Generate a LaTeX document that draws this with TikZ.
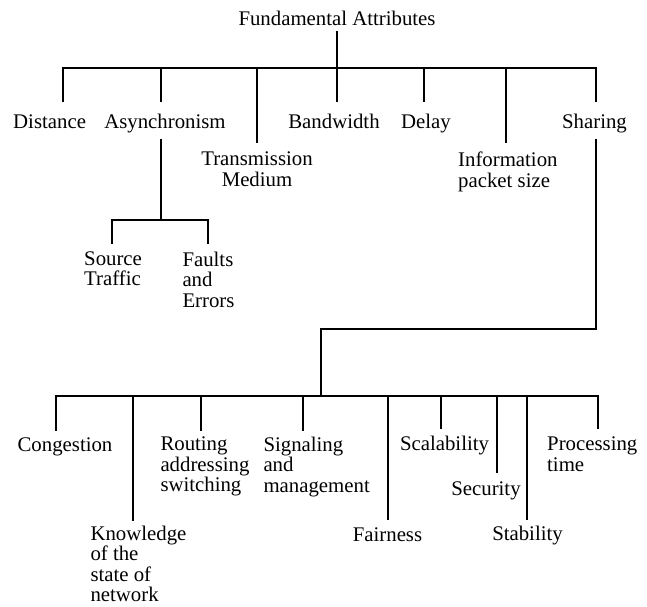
\documentclass[tikz,border=0pt]{standalone}
\usepackage{fontspec}
\setmainfont{Liberation Serif}
\begin{document}
\begin{tikzpicture}[x=1pt,y=-1pt,
  lbl/.style={font=\fontsize{20.8}{20.5}\selectfont, inner sep=0pt, outer sep=0pt},
  ml/.style={lbl, align=left, anchor=north west},
  ln/.style={line width=1.9pt, line cap=rect}]
\useasboundingbox (0,0) rectangle (647,606);
% ---- top level ----
\node[lbl,anchor=base] (root) at (337,25) {Fundamental Attributes};
\node[lbl,anchor=base] (dist) at (49.6,128) {Distance};
\node[lbl,anchor=base] (async) at (165,128) {Asynchronism};
\node[lbl,align=center,anchor=north] (trans) at (257,152) {Transmission\\Medium};
\node[lbl,anchor=base] (band) at (334,128) {Bandwidth};
\node[lbl,anchor=base] (delay) at (426,128) {Delay};
\node[ml] (info) at (458.2,152) {Information\\packet size};
\node[lbl,anchor=base] (share) at (594.5,128) {Sharing};
% ---- asynchronism children ----
\node[ml] (src) at (84.2,251.7) {Source\\Traffic};
\node[ml] (faults) at (182.5,251.7) {Faults\\and\\Errors};
% ---- sharing children ----
\node[lbl,anchor=base] (cong) at (65,451) {Congestion};
\node[ml] (know) at (90.5,526) {Knowledge\\of the\\state of\\network};
\node[ml] (rout) at (160.5,437) {Routing\\addressing\\switching};
\node[ml] (sig) at (263.5,437) {Signaling\\and\\management};
\node[lbl,anchor=base] (fair) at (387.5,541) {Fairness};
\node[lbl,anchor=base] (scal) at (444.5,450) {Scalability};
\node[lbl,anchor=base] (sec) at (486,495) {Security};
\node[lbl,anchor=base] (stab) at (527.5,540) {Stability};
\node[ml] (proc) at (547.2,437) {Processing\\time};
% ---- junction coordinates ----
\coordinate (rootj) at (337,68);
\coordinate (asyncj) at (161,220);
\coordinate (sharej) at (321,329);
\coordinate (botj) at (321,396);
% ---- connectors: top ----
\draw[ln] (337,32) -- (rootj);
\draw[ln] (63,68) -- (596,68);
\draw[ln] (63,68) -- (63,101);
\draw[ln] (161,68) -- (161,101);
\draw[ln] (257,68) -- (257,142);
\draw[ln] (337,68) -- (337,101);
\draw[ln] (424,68) -- (424,101);
\draw[ln] (506,68) -- (506,142);
\draw[ln] (596,68) -- (596,101);
% ---- asynchronism ----
\draw[ln] (161,140) -- (asyncj);
\draw[ln] (112,220) -- (208,220);
\draw[ln] (112,220) -- (112,243);
\draw[ln] (208,220) -- (208,243);
% ---- sharing ----
\draw[ln] (596,140) -- (596,329) -- (sharej) -- (botj);
\draw[ln] (56,396) -- (598,396);
\draw[ln] (56,396) -- (56,430);
\draw[ln] (133,396) -- (133,520);
\draw[ln] (201,396) -- (201,430);
\draw[ln] (303,396) -- (303,430);
\draw[ln] (388,396) -- (388,519);
\draw[ln] (441,396) -- (441,428);
\draw[ln] (497,396) -- (497,472);
\draw[ln] (527,396) -- (527,519);
\draw[ln] (598,396) -- (598,428);
\end{tikzpicture}
\end{document}
